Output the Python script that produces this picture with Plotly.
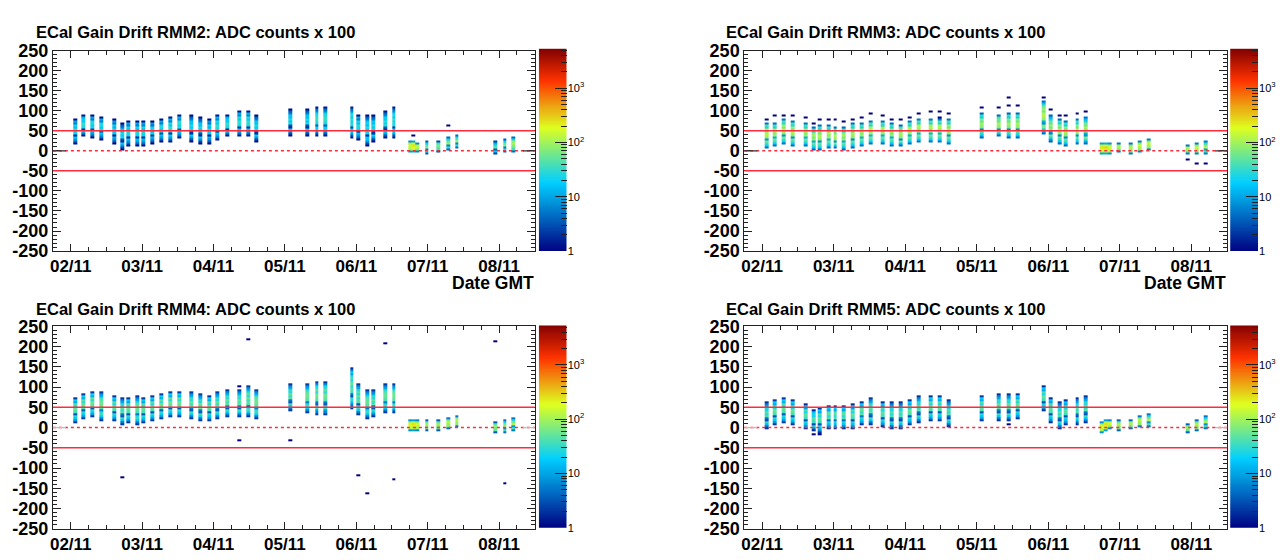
import math
import plotly.graph_objects as go

# ---------------- data ----------------
# column centres: hours after 02/11 00:00 GMT
TIMES_H = [1.5, 4.3, 7.3, 10.3, 14.5, 17.4, 19.4, 22.4, 24.5, 27.5,
           30.5, 33.5, 36.4, 40.5, 43.6, 46.6, 49.4, 52.5, 56.6, 59.6, 62.5,
           73.7, 79.5, 82.7, 85.7,
           94.5, 96.7, 99.8, 101.7, 105.7, 108.6,
           114.0, 115.3, 116.6,
           119.7, 123.7, 126.8, 129.8,
           142.8, 145.9, 148.7]
DAY_TICKS_H = [0, 24, 48, 72, 96, 120, 144]
DAY_LABELS = ["02/11", "03/11", "04/11", "05/11", "06/11", "07/11", "08/11"]
Y_TICKS = list(range(-250, 251, 50))

RMM2_TOP = [78, 88, 92, 86, 78, 71, 76, 77, 75, 75, 78, 87, 89, 90, 84, 78, 91, 91, 98, 102, 91,
            107, 106, 110, 110, 109, 90, 88, 91, 100, 108, 26, 25, 22, 27, 27, 34, 38, 23, 31, 37]
RMM2_BOT = [17, 33, 29, 25, 15, 1, 11, 9, 11, 14, 21, 22, 29, 18, 15, 15, 27, 34, 33, 34, 22,
            34, 37, 37, 37, 32, 23, 12, 21, 30, 32, -5, -7, -7, -8, -6, 1, 6, -11, -5, -5]
RMM2_PEAK = [30, 35, 30, 30, 25, 30, 30, 30, 30, 25, 30, 35, 35, 30, 30, 25, 35, 35, 35, 35, 30,
             30, 30, 35, 35, 35, 30, 30, 30, 35, 35, 180, 250, 160, 90, 70, 110, 110, 60, 90, 110]
RMM2_OUT_T = [126.8, 115.3]
RMM2_OUT_Y = [60, 36]

RMM3_TOP = [68, 72, 78, 76, 68, 60, 64, 66, 62, 60, 68, 72, 76, 75, 70, 67, 76, 79, 80, 79, 78,
            96, 92, 96, 96, 124, 88, 80, 75, 80, 86, 22, 22, 20, 19, 19, 27, 29, 13, 19, 25]
RMM3_BOT = [5, 11, 13, 11, 9, -2, 1, 3, 5, 2, 5, 10, 17, 13, 10, 8, 13, 18, 18, 18, 13,
            29, 33, 31, 30, 42, 22, 13, 9, 15, 15, -8, -10, -8, -7, -11, -5, 0, -11, -11, -11]
RMM3_PEAK = [130, 120, 130, 120, 120, 110, 120, 120, 120, 110, 110, 120, 130, 120, 110, 110, 120,
             130, 130, 130, 120, 100, 110, 100, 110, 120, 100, 110, 110, 110, 120, 250, 300, 200,
             130, 130, 150, 150, 130, 150, 150]
RMM3_OUT_T = [1.5, 4.3, 7.3, 10.3, 14.5, 17.4, 19.4, 22.4, 24.5, 27.5, 30.5, 33.5, 36.4, 40.5,
              43.6, 46.6, 49.4, 52.5, 56.6, 59.6, 59.6, 62.5, 73.7, 79.5, 82.7, 82.7, 85.7, 94.5,
              96.7, 99.8, 101.7, 105.7, 108.6, 142.8, 145.9, 148.7]
RMM3_OUT_Y = [75, 88, 86, 86, 80, 68, 76, 76, 76, 70, 76, 83, 92, 86,
              79, 79, 84, 90, 95, 95, 83, 90, 106, 108, 133, 110, 110, 133,
              100, 86, 88, 90, 96, -23, -33, -33]

RMM4_TOP = [76, 85, 90, 90, 81, 77, 76, 79, 76, 79, 84, 89, 92, 88, 84, 81, 90, 96, 96, 104, 96,
            112, 111, 114, 114, 148, 108, 96, 96, 108, 112, 21, 21, 20, 18, 21, 27, 32, 13, 18, 27]
RMM4_BOT = [11, 21, 23, 15, 13, 5, 10, 6, 9, 13, 18, 23, 27, 21, 15, 14, 19, 23, 27, 27, 21,
            40, 33, 31, 31, 45, 29, 21, 23, 35, 35, -11, -11, -9, -9, -11, -5, -1, -13, -13, -11]
RMM4_PEAK = [55, 60, 60, 60, 55, 55, 55, 55, 55, 55, 60, 60, 60, 60, 60, 55, 60, 60, 60, 60, 60,
             55, 60, 60, 60, 50, 55, 55, 55, 55, 60, 200, 250, 180, 100, 100, 130, 130, 90, 120, 140]
RMM4_OUT_T = [59.6, 105.7, 142.8, 17.4, 56.6, 73.7, 96.7, 99.8, 108.6, 145.9, 56.6]
RMM4_OUT_Y = [216, 206, 211, -122, -33, -33, -116, -165, -128, -137, 104]

RMM5_TOP = [65, 71, 73, 71, 60, 43, 52, 57, 56, 57, 62, 67, 75, 67, 63, 63, 71, 81, 79, 79, 71,
            81, 85, 87, 85, 107, 77, 67, 69, 75, 79, 15, 18, 21, 19, 21, 28, 33, 12, 19, 31]
RMM5_BOT = [-6, 6, 10, 4, -4, -12, -14, -6, -6, -6, -4, 6, 6, 2, -4, -4, 6, 10, 13, 15, 1,
            16, 15, 16, 19, 39, 10, -4, 6, 6, 12, -15, -12, -7, -10, -7, -2, 1, -14, -10, -4]
RMM5_PEAK = [50, 55, 55, 55, 50, 45, 50, 50, 50, 50, 50, 55, 55, 50, 50, 50, 55, 55, 55, 55, 50,
             55, 55, 55, 55, 50, 50, 50, 50, 50, 55, 200, 250, 180, 110, 110, 130, 140, 100, 120, 130]
RMM5_OUT_T = [17.4, 19.4, 82.7, 96.7]
RMM5_OUT_Y = [-18, -18, 8, 34]

# relative counts along a column, top to bottom (typical stripe pattern)
PROFILE = [0.04, 0.12, 0.35, 0.2, 0.55, 0.8, 0.5, 0.95, 1.0, 0.6,
           0.85, 0.7, 0.1, 0.06, 0.5, 0.6, 0.3, 0.15, 0.1, 0.04]

PANELS = [
    ("ECal Gain Drift RMM2: ADC counts x 100", RMM2_TOP, RMM2_BOT, RMM2_PEAK, RMM2_OUT_T, RMM2_OUT_Y),
    ("ECal Gain Drift RMM3: ADC counts x 100", RMM3_TOP, RMM3_BOT, RMM3_PEAK, RMM3_OUT_T, RMM3_OUT_Y),
    ("ECal Gain Drift RMM4: ADC counts x 100", RMM4_TOP, RMM4_BOT, RMM4_PEAK, RMM4_OUT_T, RMM4_OUT_Y),
    ("ECal Gain Drift RMM5: ADC counts x 100", RMM5_TOP, RMM5_BOT, RMM5_PEAK, RMM5_OUT_T, RMM5_OUT_Y),
]

# ---------------- histogram binning ----------------
BIN_W = 1.3          # hours
Y_BIN = 5            # ADC counts x 100
Y_EDGES = list(range(-250, 251, Y_BIN))
NY = len(Y_EDGES) - 1
LOGMAX = 3.73

COLORSCALE = [[0.0, "rgb(0,0,130)"], [0.34, "rgb(0,207,255)"], [0.61, "rgb(222,255,31)"],
              [0.84, "rgb(255,51,0)"], [1.0, "rgb(130,0,0)"]]


def ybin(v):
    return max(0, min(NY - 1, int(math.floor((v + 250) / Y_BIN))))


def build(top, bot, peak, out_t, out_y):
    cols = {}
    for i, t in enumerate(TIMES_H):
        col = [None] * NY
        idx = [k for k in range(NY) if bot[i] <= Y_EDGES[k] + Y_BIN / 2 <= top[i]]
        idx.sort(reverse=True)
        n = len(idx)
        for j, k in enumerate(idx):
            rel = j / (n - 1) if n > 1 else 0.5
            c = max(1.0, peak[i] * PROFILE[int(round(rel * (len(PROFILE) - 1)))])
            col[k] = math.log10(c)
        cols[i] = col
    for t, v in zip(out_t, out_y):
        i = min(range(len(TIMES_H)), key=lambda m: abs(TIMES_H[m] - t))
        k = ybin(v)
        if cols[i][k] is None:
            cols[i][k] = 0.0
    edges, zcols = [], []
    for i, t in enumerate(TIMES_H):
        l, r = t - BIN_W / 2, t + BIN_W / 2
        if not edges:
            edges = [l, r]
        elif abs(edges[-1] - l) < 1e-6 or l < edges[-1]:
            edges.append(r)
        else:
            edges += [l, r]
            zcols.append([None] * NY)
        zcols.append(cols[i])
    z = [[zcols[c][k] for c in range(len(zcols))] for k in range(NY)]
    return edges, z


# ---------------- layout geometry ----------------
W, H = 1282, 560
FONT = "Liberation Sans"


def px(x):
    return x / W


def py(y):
    return 1 - y / H


FRAMES = [(50, 533, 42, 250), (743, 1227, 42, 250), (50, 533, 328, 538), (743, 1227, 328, 538)]
PALS = [(537, 565, 40, 250), (1230, 1258, 40, 250), (537, 565, 327, 537), (1230, 1258, 327, 537)]
TITLE_POS = [(31, 23), (723, 23), (31, 310), (723, 310)]

fig = go.Figure()
layout = dict(width=W, height=H, margin=dict(l=0, r=0, t=0, b=0),
              paper_bgcolor="white", plot_bgcolor="white", showlegend=False,
              coloraxis=dict(colorscale=COLORSCALE, cmin=0, cmax=LOGMAX, showscale=False),
              annotations=[], shapes=[])

AX = "#222222"
RED = "#ff2a3a"
y_minor = [v for v in range(-250, 251, 10) if v % 50]
x_minor = [h for h in range(-6, 157, 6) if h % 24]
pal_major = [0, 1, 2, 3]
pal_minor = [d + math.log10(m) for d in range(4) for m in range(2, 10) if d + math.log10(m) < LOGMAX]

for p, (title, top, bot, peak, ot, oy) in enumerate(PANELS):
    n = p + 1
    xs = "x" if n == 1 else f"x{n}"
    ys = "y" if n == 1 else f"y{n}"
    edges, z = build(top, bot, peak, ot, oy)
    fig.add_trace(go.Heatmap(x=edges, y=Y_EDGES, z=z, coloraxis="coloraxis",
                             hoverongaps=False, xaxis=xs, yaxis=ys))
    x0, x1, y0, y1 = FRAMES[p]
    layout["xaxis" if n == 1 else f"xaxis{n}"] = dict(
        domain=[px(x0), px(x1)], range=[-6, 156], anchor=ys,
        tickmode="array", tickvals=DAY_TICKS_H, ticktext=DAY_LABELS,
        ticks="inside", ticklen=7, tickwidth=1, tickcolor=AX,
        minor=dict(tickmode="array", tickvals=x_minor, ticks="inside", ticklen=4,
                   tickcolor=AX, showgrid=False),
        showline=True, linecolor=AX, linewidth=1, mirror="allticks",
        showgrid=False, zeroline=False,
        tickfont=dict(family=FONT, size=17, color="black", weight="bold"))
    layout["yaxis" if n == 1 else f"yaxis{n}"] = dict(
        domain=[py(y1), py(y0)], range=[-250, 250], anchor=xs,
        tickmode="array", tickvals=Y_TICKS, ticktext=[str(v) for v in Y_TICKS],
        ticks="inside", ticklen=8, tickwidth=1, tickcolor=AX,
        minor=dict(tickmode="array", tickvals=y_minor, ticks="inside", ticklen=4,
                   tickcolor=AX, showgrid=False),
        showline=True, linecolor=AX, linewidth=1, mirror="allticks",
        showgrid=False, zeroline=False,
        tickfont=dict(family=FONT, size=18, color="black", weight="bold"))

    # reference lines
    for yv, dash in ((50, "solid"), (-50, "solid"), (0, "dot")):
        layout["shapes"].append(dict(type="line", xref=f"{xs} domain", yref=ys, x0=0, x1=1,
                                     y0=yv, y1=yv, line=dict(color=RED, width=1.5, dash=dash),
                                     layer="above"))
    seg_col = "#333333" if p < 2 else "#bbbbbb"
    for a, b in ((0, 0.027), (0.975, 1)):
        layout["shapes"].append(dict(type="line", xref=f"{xs} domain", yref=ys, x0=a, x1=b,
                                     y0=0, y1=0, line=dict(color=seg_col, width=1.2),
                                     layer="above"))

    # title
    tx, ty = TITLE_POS[p]
    layout["annotations"].append(dict(text=title, x=px(tx), y=py(ty), xref="paper", yref="paper",
                                      xanchor="left", yanchor="middle", showarrow=False,
                                      font=dict(family=FONT, size=16.5, color="black", weight="bold")))
    if p < 2:
        layout["annotations"].append(dict(text="Date GMT", x=px(x1), y=py(283), xref="paper",
                                          yref="paper", xanchor="right", yanchor="middle",
                                          showarrow=False, borderpad=0,
                                          font=dict(family=FONT, size=17.5, color="black",
                                                    weight="bold")))

    # palette
    m = n + 4
    pxs, pys = f"x{m}", f"y{m}"
    nstep = 200
    pedges = [LOGMAX * i / nstep for i in range(nstep + 1)]
    pz = [[(pedges[i] + pedges[i + 1]) / 2] for i in range(nstep)]
    fig.add_trace(go.Heatmap(x=[0, 1], y=pedges, z=pz, coloraxis="coloraxis",
                             hoverinfo="skip", xaxis=pxs, yaxis=pys))
    a0, a1, b0, b1 = PALS[p]
    layout[f"xaxis{m}"] = dict(domain=[px(a0), px(a1)], range=[0, 1], anchor=pys,
                               showticklabels=False, ticks="", showline=False,
                               showgrid=False, zeroline=False)
    layout[f"yaxis{m}"] = dict(domain=[py(b1), py(b0)], range=[0, LOGMAX], anchor=pxs,
                               side="right", tickmode="array", tickvals=pal_major,
                               ticktext=["1", "10", "10<sup>2</sup>", "10<sup>3</sup>"],
                               ticks="inside", ticklen=12, tickwidth=1, tickcolor="#222",
                               minor=dict(tickmode="array", tickvals=pal_minor, ticks="inside",
                                          ticklen=6, tickcolor="#222", showgrid=False),
                               showline=False, showgrid=False, zeroline=False,
                               tickfont=dict(family=FONT, size=11, color="black"))

fig.update_layout(**layout)
fig.write_html("out.html")
